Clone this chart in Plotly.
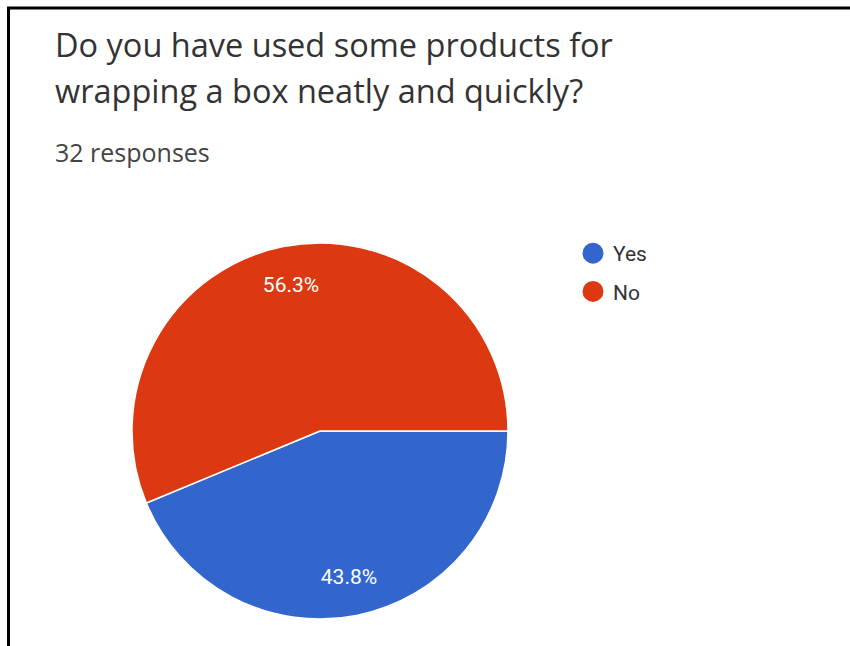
import plotly.graph_objects as go

# Survey answers (32 responses)
answers = ["Yes", "No"]
counts = [14, 18]
slice_colors = ["#3366CC", "#DC3912"]

title_lines = ["Do you have used some products for", "wrapping a box neatly and quickly?"]
subtitle = "32 responses"

W, H = 850, 646


def px_x(x):
    return x / W


def px_y(y):
    return 1 - y / H


pie_domain = dict(x=[px_x(132), px_x(508)], y=[px_y(619), px_y(243)])

fig = go.Figure()

# Filled slices
fig.add_trace(go.Pie(
    labels=answers,
    values=counts,
    sort=False,
    direction="clockwise",
    rotation=90,
    marker=dict(colors=slice_colors, line=dict(color="white", width=1.5)),
    textinfo="none",
    showlegend=False,
    hoverinfo="label+value+percent",
    domain=pie_domain,
))

# Transparent ring over the same slices: carries the percentage labels
# so they sit out toward the rim
fig.add_trace(go.Pie(
    labels=answers,
    values=counts,
    sort=False,
    direction="clockwise",
    rotation=90,
    hole=0.58,
    marker=dict(colors=["rgba(0,0,0,0)"] * len(answers), line=dict(width=0)),
    texttemplate="%{percent:.1%}",
    textposition="inside",
    insidetextorientation="horizontal",
    textfont=dict(family="Roboto", size=21, color="white"),
    showlegend=False,
    hoverinfo="skip",
    domain=pie_domain,
))

# Legend entries with round swatches
for name, col in zip(answers, slice_colors):
    fig.add_trace(go.Scatter(
        x=[None], y=[None], mode="markers", name=name, legendgroup=name,
        marker=dict(symbol="circle", size=16, color=col, line=dict(color=col, width=5)),
    ))

fig.update_xaxes(visible=False)
fig.update_yaxes(visible=False)

annotations = [
    dict(text=title_lines[0], x=px_x(53), y=px_y(44), font=dict(size=32.5, color="#333333")),
    dict(text=title_lines[1], x=px_x(53), y=px_y(90), font=dict(size=32.5, color="#333333")),
    dict(text=subtitle, x=px_x(53), y=px_y(152), font=dict(size=25, color="#444444")),
]
for a in annotations:
    a.update(xref="paper", yref="paper", xanchor="left", yanchor="middle",
             showarrow=False, align="left")
    a["font"]["family"] = "Open Sans"

# Frame lines along the top and left edges
frame = [
    dict(type="line", x0=px_x(7), x1=1.0, y0=px_y(8), y1=px_y(8)),
    dict(type="line", x0=px_x(8.5), x1=px_x(8.5), y0=px_y(7), y1=0.0),
]
for s in frame:
    s.update(xref="paper", yref="paper", line=dict(color="black", width=3))

fig.update_layout(
    width=W, height=H,
    margin=dict(l=0, r=0, t=0, b=0),
    paper_bgcolor="white",
    plot_bgcolor="white",
    annotations=annotations,
    shapes=frame,
    legend=dict(
        x=px_x(573), y=px_y(233), xanchor="left", yanchor="top",
        font=dict(family="Roboto", size=21, color="#333333"),
        traceorder="grouped", tracegroupgap=8,
        bgcolor="rgba(0,0,0,0)",
    ),
)

fig.write_html("out.html")
